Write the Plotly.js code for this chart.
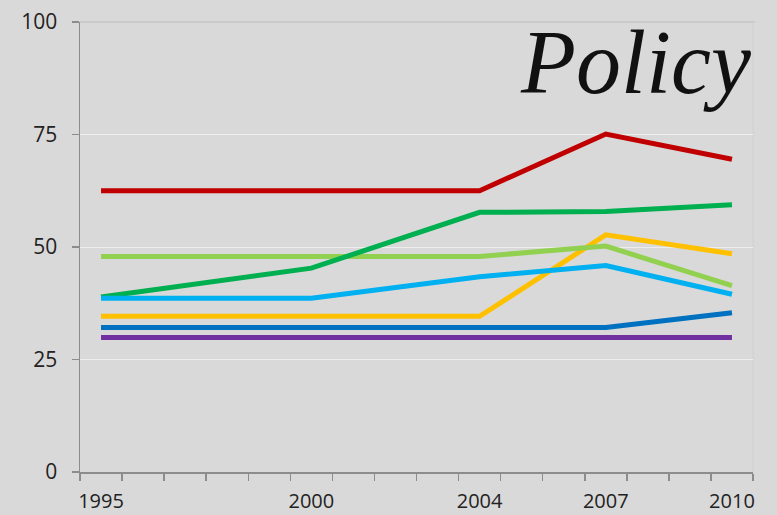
<!DOCTYPE html>
<html>
<head>
<meta charset="utf-8">
<script src="https://cdn.plot.ly/plotly-3.0.1.min.js"></script>
<style>
  html, body { margin: 0; padding: 0; background: #d9d9d9; }
  #chart { width: 777px; height: 515px; }
</style>
</head>
<body>
<div id="chart"></div>
<script>
// Data
var years = [1995, 2000, 2004, 2007, 2010];
var tickLabels = ["1995", "2000", "2004", "2007", "2010"];
var yTicks = [0, 25, 50, 75, 100];

var red        = [62.5, 62.5, 62.5, 75.1, 69.5];
var yellow     = [34.6, 34.6, 34.6, 52.7, 48.5];
var lightGreen = [47.9, 47.9, 47.9, 50.2, 41.4];
var green      = [38.9, 45.3, 57.7, 57.9, 59.4];
var lightBlue  = [38.6, 38.6, 43.4, 45.9, 39.5];
var darkBlue   = [32.1, 32.1, 32.1, 32.1, 35.4];
var purple     = [29.9, 29.9, 29.9, 29.9, 29.9];

var series = [
  {name: "Red", y: red, color: "#c00000"},
  {name: "Yellow", y: yellow, color: "#ffc000"},
  {name: "Light green", y: lightGreen, color: "#92d050"},
  {name: "Green", y: green, color: "#00b050"},
  {name: "Light blue", y: lightBlue, color: "#00b0f0"},
  {name: "Dark blue", y: darkBlue, color: "#0070c0"},
  {name: "Purple", y: purple, color: "#7030a0"}
];

var traces = series.map(function (s) {
  return {
    type: "scatter",
    mode: "lines",
    name: s.name,
    x: years,
    y: s.y,
    line: {color: s.color, width: 5, shape: "linear"},
    hoverinfo: "x+y+name"
  };
});

var layout = {
  width: 777,
  height: 515,
  paper_bgcolor: "#d9d9d9",
  plot_bgcolor: "#d9d9d9",
  showlegend: false,
  margin: {l: 80, r: 24, t: 22, b: 43, pad: 0},
  font: {family: "Open Sans, sans-serif", color: "#222222"},
  xaxis: {
    type: "linear",
    range: [1994.5, 2010.5],
    tickmode: "array",
    tickvals: years,
    ticktext: tickLabels,
    ticks: "",
    ticklabelstandoff: 10,
    tickfont: {size: 20, color: "#222222"},
    showgrid: false,
    zeroline: false,
    showline: true,
    linecolor: "#8c8c8c",
    linewidth: 1.5,
    minor: {
      tickmode: "linear",
      tick0: 1994.5,
      dtick: 1,
      ticks: "outside",
      ticklen: 7,
      tickwidth: 1.5,
      tickcolor: "#8c8c8c",
      showgrid: false
    },
    fixedrange: true
  },
  yaxis: {
    range: [0, 100],
    tickmode: "array",
    tickvals: yTicks,
    ticktext: yTicks.map(String),
    ticks: "outside",
    ticklen: 7,
    tickwidth: 1.5,
    tickcolor: "#8c8c8c",
    ticklabelstandoff: 10,
    tickfont: {size: 21, color: "#222222"},
    showgrid: true,
    gridcolor: "#eeeeee",
    gridwidth: 1,
    zeroline: false,
    showline: true,
    linecolor: "#8c8c8c",
    linewidth: 1.5,
    fixedrange: true
  },
  shapes: [
    {type: "line", xref: "paper", yref: "paper", x0: 0, x1: 1.003, y0: 1, y1: 1,
     line: {color: "#c4c4c4", width: 1.5}, layer: "below"},
    {type: "line", xref: "paper", yref: "paper", x0: 1, x1: 1, y0: 0, y1: 1,
     line: {color: "#d0d0d0", width: 1}, layer: "below"}
  ],
  annotations: [
    {
      text: "Policy",
      xref: "paper", yref: "paper",
      x: 1, y: 1,
      xanchor: "right", yanchor: "top",
      xshift: 0, yshift: 11,
      showarrow: false,
      font: {family: "Liberation Serif, serif", size: 90, color: "#111111", style: "italic"}
    }
  ]
};

Plotly.newPlot("chart", traces, layout, {displayModeBar: false, staticPlot: true});
</script>
</body>
</html>
